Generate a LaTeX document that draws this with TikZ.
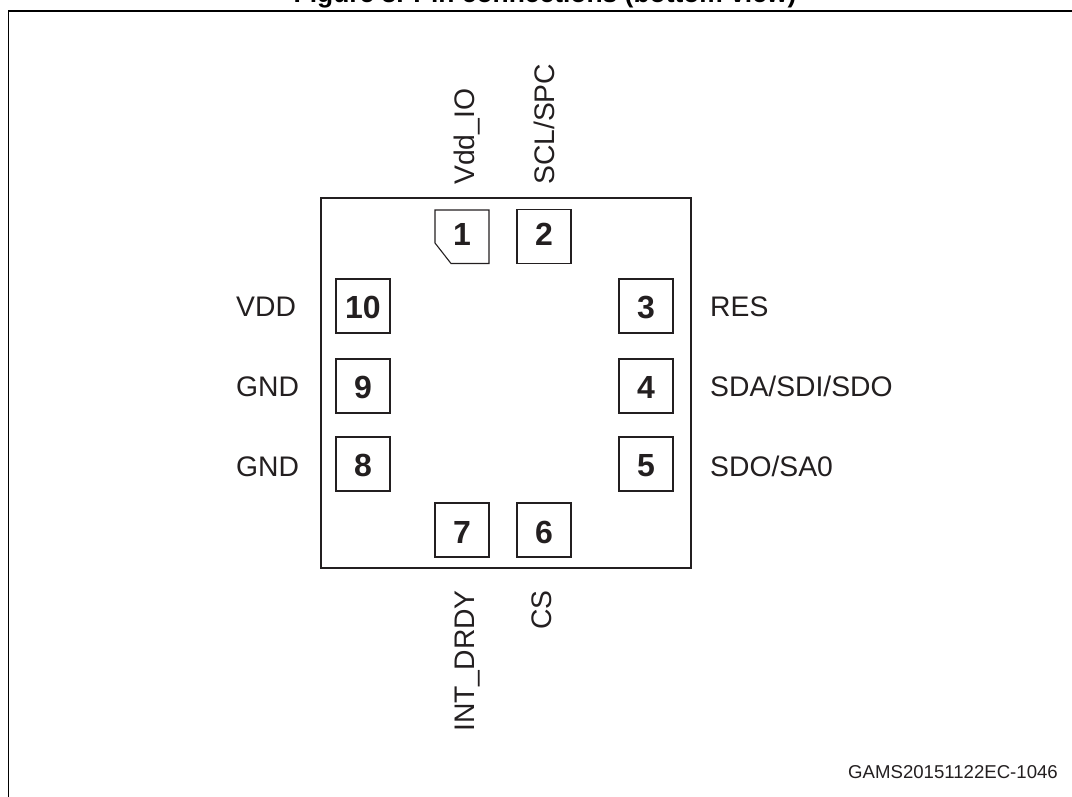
\documentclass[tikz,border=0pt]{standalone}
\usepackage{fontspec}
\setmainfont{Liberation Sans}
\usetikzlibrary{positioning}
\definecolor{myink}{RGB}{35, 31, 32}
\tikzset{
  pinbox/.style={
    draw=myink, rectangle, line width=1.1pt, inner sep=0pt,
    minimum width=54pt, minimum height=54pt,
    text height=25pt, text depth=0pt,
    text=myink, font=\fontsize{32}{32}\selectfont\bfseries
  },
  pinlabel/.style={
    inner sep=0pt, text height=20pt, text depth=0pt,
    text=myink, font=\fontsize{28.3}{28.3}\selectfont
  },
  chipbox/.style={
    draw=myink, line width=1.3pt
  }
}
\begin{document}
\begin{tikzpicture}[x=1pt, y=-1pt]
  \useasboundingbox (0,0) rectangle (1072,797);
  \clip (0,0) rectangle (1072,797);
  % outer frame, cut by the page
  \draw[line width=1.8pt, black] (8.5,797) -- (8.5,11) -- (1072,11);
  \node[anchor=base, inner sep=0pt, font=\fontsize{26.4}{26.4}\selectfont\bfseries] (title) at (545,2.5) {Figure 3. Pin connections (bottom view)};

  \node[chipbox, rectangle, inner sep=0pt, minimum width=370pt, minimum height=370pt] (chip) at (506,383) {};

  % pin 1 has the cut corner
  \node[pinbox, draw=none, text height=17pt] (pin1) at (462,236.5) {1};
  \draw[draw=myink, line width=1.1pt] (435,210) -- (489,210) -- (489,263.5) -- (451,263.5) -- (435,243) -- cycle;
  \node[pinbox, text height=17pt] (pin2) at (544,236.5) {2};
  \node[pinbox] (pin3) at (646,306) {3};
  \node[pinbox] (pin4) at (646,386) {4};
  \node[pinbox] (pin5) at (646,464) {5};
  \node[pinbox, text height=27pt] (pin6) at (544,530) {6};
  \node[pinbox, text height=27pt] (pin7) at (462,530) {7};
  \node[pinbox] (pin8) at (363,464) {8};
  \node[pinbox] (pin9) at (363,386) {9};
  \node[pinbox] (pin10) at (363,306) {10};

  \node[pinlabel, anchor=west, rotate=90] (vddio) at (464.5,185) {Vdd\_IO};
  \node[pinlabel, anchor=west, rotate=90] (scl) at (544,185) {SCL/SPC};
  \node[pinlabel, anchor=west] (vdd) at (236,306.5) {VDD};
  \node[pinlabel, anchor=west] (gnd9) at (236,386.5) {GND};
  \node[pinlabel, anchor=west] (gnd8) at (236,466) {GND};
  \node[pinlabel, anchor=west] (res) at (710,306.5) {RES};
  \node[pinlabel, anchor=west] (sda) at (710,386.5) {SDA/SDI/SDO};
  \node[pinlabel, anchor=west] (sdo) at (710,466) {SDO/SA0};
  \node[pinlabel, anchor=east, rotate=90] (intdrdy) at (464.5,590) {INT\_DRDY};
  \node[pinlabel, anchor=east, rotate=90] (cs) at (541.5,590) {CS};

  \node[inner sep=0pt, anchor=east, text=myink, font=\fontsize{18.6}{18.6}\selectfont] (code) at (1058,772) {GAMS20151122EC-1046};
\end{tikzpicture}
\end{document}
